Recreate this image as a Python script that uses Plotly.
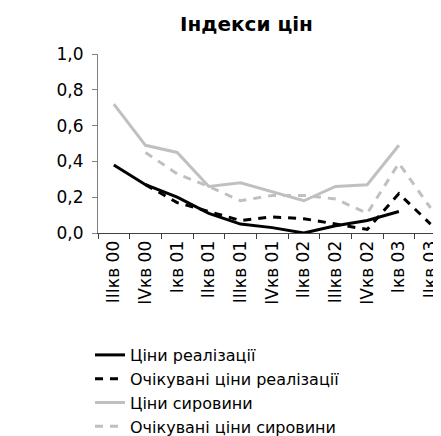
import plotly.graph_objects as go

categories = ["IIIкв 00", "IVкв 00", "Iкв 01", "IIкв 01", "IIIкв 01", "IVкв 01",
              "IIкв 02", "IIIкв 02", "IVкв 02", "Iкв 03", "IIкв 03"]
sales_prices = [0.38, 0.27, 0.20, 0.11, 0.05, 0.03, 0.00, 0.04, 0.07, 0.12, None]
expected_sales_prices = [None, 0.27, 0.17, 0.12, 0.07, 0.09, 0.08, 0.05, 0.02, 0.22, 0.05]
raw_prices = [0.72, 0.49, 0.45, 0.26, 0.28, 0.23, 0.18, 0.26, 0.27, 0.49, None]
expected_raw_prices = [None, 0.45, 0.33, 0.26, 0.18, 0.21, 0.21, 0.19, 0.11, 0.39, 0.14]

FONT = "DejaVu Sans"
OFF = 8  # page body margin offset
W, H = 441 - OFF, 436 - OFF
ml, mt = 97.7 - OFF, 53.5 - OFF
plot_bottom = 232.7 - OFF
mb = H - plot_bottom

fig = go.Figure()
series = [
    ("Ціни реалізації", sales_prices, "#000000", "solid"),
    ("Очікувані ціни реалізації", expected_sales_prices, "#000000", "8px,7px"),
    ("Ціни сировини", raw_prices, "#c0c0c0", "solid"),
    ("Очікувані ціни сировини", expected_raw_prices, "#c0c0c0", "8px,7px"),
]
for name, vals, col, dash in series:
    fig.add_trace(go.Scatter(
        x=categories, y=vals, name=name, mode="lines",
        line=dict(color=col, width=3, dash=dash),
        connectgaps=False,
    ))

fig.update_layout(
    width=W, height=H,
    margin=dict(l=ml, r=0, t=mt, b=mb, pad=0, autoexpand=False),
    paper_bgcolor="white", plot_bgcolor="white",
    separators=", ",
    font=dict(family=FONT, color="#000000", size=16),
    title=dict(text="<b>Індекси цін</b>", x=(246.5 - OFF) / W, xanchor="center",
               y=1 - (23.5 - OFF) / H, yanchor="middle", xref="container", yref="container",
               font=dict(family=FONT, size=20, color="#000000")),
    xaxis=dict(
        type="category", range=[-0.5, 10.33], tickangle=-90, automargin=False,
        showline=True, linecolor="#404040", linewidth=1,
        ticks="outside", ticklen=5, tickcolor="#404040", tickson="boundaries",
        showgrid=False, zeroline=False,
        tickfont=dict(family=FONT, size=17, color="#000000"),
    ),
    yaxis=dict(
        range=[0, 1.0], dtick=0.2, tickformat=".1f", automargin=False,
        showline=True, linecolor="#808080", linewidth=1,
        ticks="outside", ticklen=5, tickcolor="#808080", ticklabelstandoff=5,
        showgrid=False, zeroline=False,
        tickfont=dict(family=FONT, size=17, color="#000000"),
    ),
    showlegend=True,
    legend=dict(
        xref="container", yref="container",
        x=(90 - OFF) / W, xanchor="left",
        y=1 - (338 - OFF) / H, yanchor="top",
        bgcolor="rgba(0,0,0,0)", borderwidth=0,
        font=dict(family=FONT, size=16, color="#000000"),
        tracegroupgap=0, itemwidth=30,
    ),
)

fig.write_html("out.html")
